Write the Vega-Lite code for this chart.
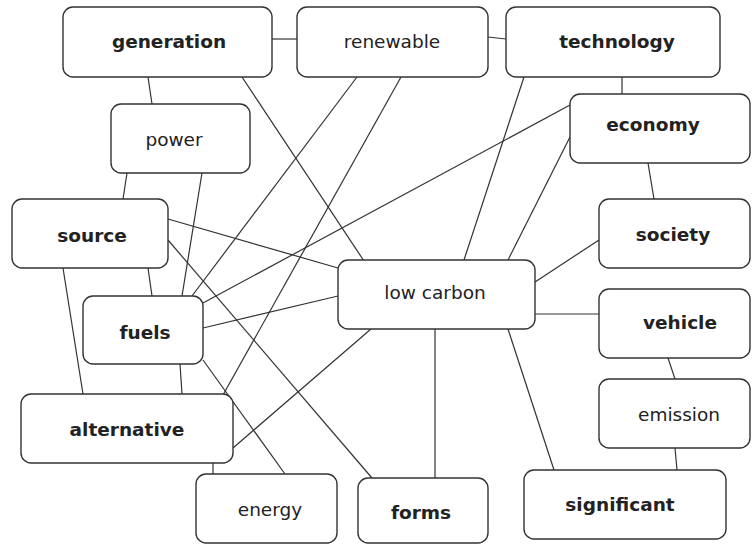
{
  "$schema": "https://vega.github.io/schema/vega-lite/v6.json",
  "width": 752,
  "height": 545,
  "autosize": {"type": "none"},
  "padding": 0,
  "background": "white",
  "config": {"view": {"stroke": null}},
  "datasets": {
    "nodes": [
      {"name": "generation", "kind": "key", "x1": 63, "x2": 272, "y1": 7, "y2": 77, "lx": 169, "ly": 42},
      {"name": "renewable", "kind": "other", "x1": 297, "x2": 488, "y1": 7, "y2": 77, "lx": 392, "ly": 42},
      {"name": "technology", "kind": "key", "x1": 506, "x2": 720, "y1": 7, "y2": 77, "lx": 617, "ly": 42},
      {"name": "power", "kind": "other", "x1": 111, "x2": 250, "y1": 104, "y2": 173, "lx": 174, "ly": 140},
      {"name": "economy", "kind": "key", "x1": 570, "x2": 750, "y1": 94, "y2": 163, "lx": 653, "ly": 125},
      {"name": "source", "kind": "key", "x1": 12, "x2": 168, "y1": 199, "y2": 268, "lx": 92, "ly": 236},
      {"name": "society", "kind": "key", "x1": 599, "x2": 750, "y1": 199, "y2": 268, "lx": 673, "ly": 235},
      {"name": "low carbon", "kind": "other", "x1": 338, "x2": 535, "y1": 260, "y2": 329, "lx": 435, "ly": 293},
      {"name": "fuels", "kind": "key", "x1": 83, "x2": 203, "y1": 296, "y2": 364, "lx": 145, "ly": 333},
      {"name": "vehicle", "kind": "key", "x1": 599, "x2": 750, "y1": 289, "y2": 358, "lx": 680, "ly": 323},
      {"name": "alternative", "kind": "key", "x1": 21, "x2": 233, "y1": 394, "y2": 463, "lx": 127, "ly": 430},
      {"name": "emission", "kind": "other", "x1": 599, "x2": 750, "y1": 379, "y2": 448, "lx": 679, "ly": 415},
      {"name": "energy", "kind": "other", "x1": 196, "x2": 337, "y1": 474, "y2": 543, "lx": 270, "ly": 510},
      {"name": "forms", "kind": "key", "x1": 358, "x2": 488, "y1": 478, "y2": 543, "lx": 421, "ly": 513},
      {"name": "significant", "kind": "key", "x1": 524, "x2": 726, "y1": 470, "y2": 539, "lx": 620, "ly": 505}
    ],
    "edges": [
      {"from": "generation", "to": "renewable", "x1": 272, "y1": 39, "x2": 297, "y2": 39},
      {"from": "renewable", "to": "technology", "x1": 488, "y1": 37, "x2": 506, "y2": 39},
      {"from": "generation", "to": "power", "x1": 148, "y1": 77, "x2": 152, "y2": 104},
      {"from": "generation", "to": "low carbon", "x1": 242, "y1": 77, "x2": 364, "y2": 261},
      {"from": "renewable", "to": "fuels", "x1": 357, "y1": 77, "x2": 192, "y2": 296},
      {"from": "renewable", "to": "alternative", "x1": 401, "y1": 77, "x2": 223, "y2": 395},
      {"from": "technology", "to": "low carbon", "x1": 524, "y1": 77, "x2": 464, "y2": 260},
      {"from": "technology", "to": "economy", "x1": 622, "y1": 77, "x2": 622, "y2": 94},
      {"from": "economy", "to": "fuels", "x1": 570, "y1": 105, "x2": 203, "y2": 303},
      {"from": "economy", "to": "low carbon", "x1": 570, "y1": 137, "x2": 508, "y2": 260},
      {"from": "economy", "to": "society", "x1": 648, "y1": 163, "x2": 654, "y2": 199},
      {"from": "power", "to": "source", "x1": 127, "y1": 173, "x2": 123, "y2": 199},
      {"from": "power", "to": "fuels", "x1": 202, "y1": 173, "x2": 182, "y2": 296},
      {"from": "source", "to": "low carbon", "x1": 168, "y1": 219, "x2": 338, "y2": 268},
      {"from": "source", "to": "fuels", "x1": 148, "y1": 268, "x2": 152, "y2": 296},
      {"from": "source", "to": "alternative", "x1": 63, "y1": 268, "x2": 83, "y2": 394},
      {"from": "source", "to": "forms", "x1": 168, "y1": 240, "x2": 372, "y2": 478},
      {"from": "low carbon", "to": "society", "x1": 535, "y1": 282, "x2": 599, "y2": 240},
      {"from": "low carbon", "to": "vehicle", "x1": 535, "y1": 314, "x2": 599, "y2": 314},
      {"from": "low carbon", "to": "fuels", "x1": 338, "y1": 296, "x2": 203, "y2": 328},
      {"from": "low carbon", "to": "alternative", "x1": 371, "y1": 329, "x2": 233, "y2": 448},
      {"from": "low carbon", "to": "forms", "x1": 435, "y1": 329, "x2": 435, "y2": 478},
      {"from": "low carbon", "to": "significant", "x1": 508, "y1": 329, "x2": 554, "y2": 470},
      {"from": "fuels", "to": "alternative", "x1": 180, "y1": 364, "x2": 182, "y2": 394},
      {"from": "fuels", "to": "energy", "x1": 203, "y1": 360, "x2": 285, "y2": 474},
      {"from": "alternative", "to": "energy", "x1": 213, "y1": 463, "x2": 213, "y2": 474},
      {"from": "vehicle", "to": "emission", "x1": 668, "y1": 358, "x2": 675, "y2": 379},
      {"from": "emission", "to": "significant", "x1": 675, "y1": 448, "x2": 677, "y2": 470}
    ]
  },
  "layer": [
    {
      "data": {"name": "edges"},
      "mark": {"type": "rule", "color": "#333333", "strokeWidth": 1.2},
      "encoding": {
        "x": {"field": "x1", "type": "quantitative", "scale": {"domain": [0, 752], "nice": false, "zero": false}, "axis": null},
        "y": {"field": "y1", "type": "quantitative", "scale": {"domain": [0, 545], "nice": false, "zero": false, "reverse": true}, "axis": null},
        "x2": {"field": "x2"},
        "y2": {"field": "y2"}
      }
    },
    {
      "data": {"name": "nodes"},
      "mark": {"type": "rect", "fill": "white", "stroke": "#333333", "strokeWidth": 1.4, "cornerRadius": 10},
      "encoding": {
        "x": {"field": "x1", "type": "quantitative", "scale": {"domain": [0, 752], "nice": false, "zero": false}, "axis": null},
        "x2": {"field": "x2"},
        "y": {"field": "y1", "type": "quantitative", "scale": {"domain": [0, 545], "nice": false, "zero": false, "reverse": true}, "axis": null},
        "y2": {"field": "y2"}
      }
    },
    {
      "data": {"name": "nodes"},
      "transform": [{"filter": "datum.kind === 'key'"}],
      "mark": {"type": "text", "font": "DejaVu Sans", "fontSize": 18.5, "fontWeight": "bold", "color": "#222222", "align": "center", "baseline": "middle"},
      "encoding": {
        "x": {"field": "lx", "type": "quantitative", "scale": {"domain": [0, 752], "nice": false, "zero": false}, "axis": null},
        "y": {"field": "ly", "type": "quantitative", "scale": {"domain": [0, 545], "nice": false, "zero": false, "reverse": true}, "axis": null},
        "text": {"field": "name"}
      }
    },
    {
      "data": {"name": "nodes"},
      "transform": [{"filter": "datum.kind !== 'key'"}],
      "mark": {"type": "text", "font": "DejaVu Sans", "fontSize": 18.5, "fontWeight": "normal", "color": "#222222", "align": "center", "baseline": "middle"},
      "encoding": {
        "x": {"field": "lx", "type": "quantitative", "scale": {"domain": [0, 752], "nice": false, "zero": false}, "axis": null},
        "y": {"field": "ly", "type": "quantitative", "scale": {"domain": [0, 545], "nice": false, "zero": false, "reverse": true}, "axis": null},
        "text": {"field": "name"}
      }
    }
  ]
}
